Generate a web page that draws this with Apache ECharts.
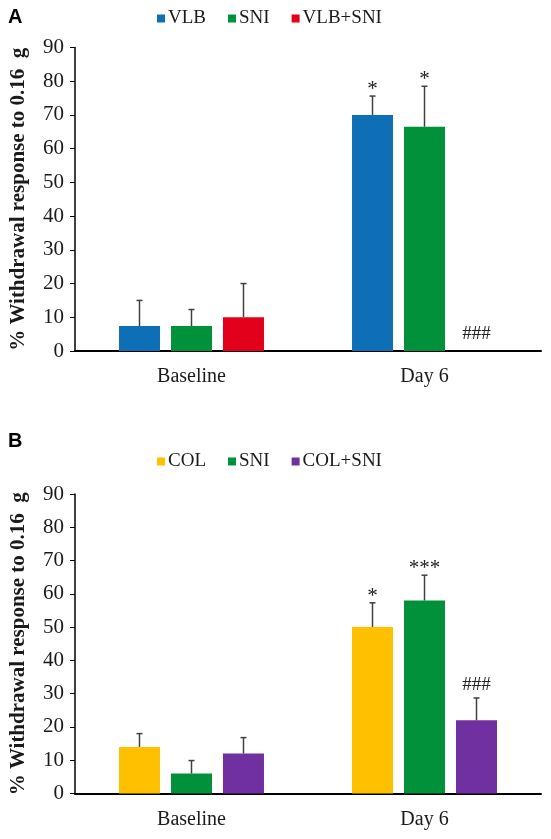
<!DOCTYPE html>
<html>
<head>
<meta charset="utf-8">
<script src="https://cdn.jsdelivr.net/npm/echarts@6/dist/echarts.min.js"></script>
<style>html,body{margin:0;padding:0;background:#fff;}#c{width:551px;height:839px;}</style>
</head>
<body>
<div id="c"></div>
<script>
// ---- data ----
const categories = ['Baseline', 'Day 6'];
const yTicks = [0, 10, 20, 30, 40, 50, 60, 70, 80, 90];

// Panel A
const namesA = ['VLB', 'SNI', 'VLB+SNI'];
const vlbMean = [7.4, 70];
const vlbSD = [7.6, 5.6];
const sniAMean = [7.4, 66.5];
const sniASD = [4.9, 12];
const vlbSniMean = [10, 0];
const vlbSniSD = [10, 0];
const vlbSig = ['', '*'];
const sniASig = ['', '*'];
const vlbSniSig = ['', '###'];

// Panel B
const namesB = ['COL', 'SNI', 'COL+SNI'];
const colMean = [14, 50];
const colSD = [4, 7.3];
const sniBMean = [6, 58];
const sniBSD = [3.9, 7.6];
const colSniMean = [12, 22];
const colSniSD = [4.8, 6.7];
const colSig = ['', '*'];
const sniBSig = ['', '***'];
const colSniSig = ['', '###'];

// ---- style ----
const SERIF = "'Liberation Serif', 'Times New Roman', serif";
const colorsA = ['#0f6fb6', '#00913a', '#e2001a'];
const colorsB = ['#ffc000', '#00913a', '#7030a0'];
const BAR_W = 41, BAR_GAP = 11;

const chart = echarts.init(document.getElementById('c'), null, {renderer: 'canvas'});

function xAx(gi) {
  return {
    gridIndex: gi, type: 'category', data: categories,
    axisLine: {lineStyle: {color: '#000', width: 2}},
    axisTick: {show: false},
    axisLabel: {fontFamily: SERIF, fontSize: 20, color: '#1a1a1a', margin: 16}
  };
}
function yAx(gi) {
  return {
    gridIndex: gi, type: 'value', min: yTicks[0], max: yTicks[yTicks.length - 1], interval: 10,
    axisLine: {show: true, lineStyle: {color: '#000', width: 1.5}},
    axisTick: {show: true, length: 5, lineStyle: {color: '#000', width: 1}},
    splitLine: {show: false},
    axisLabel: {fontFamily: SERIF, fontSize: 21, color: '#1a1a1a', margin: 11},
    name: '% Withdrawal response to 0.16  g',
    nameLocation: 'middle', nameGap: 46,
    nameTextStyle: {fontFamily: SERIF, fontSize: 21, fontWeight: 'bold', color: '#1a1a1a'}
  };
}
function barSeries(name, data, color, gi) {
  return {
    name: name, type: 'bar', xAxisIndex: gi, yAxisIndex: gi, data: data,
    barWidth: BAR_W, barGap: (BAR_GAP / BAR_W * 100).toFixed(1) + '%',
    itemStyle: {color: color}
  };
}
function errSeries(gi, means, sds, sigs) {
  const rows = [];
  const sigList = [];
  means.forEach((m, si) => {
    m.forEach((v, ci) => {
      rows.push([ci, si, v, sds[si][ci]]);
      sigList.push(sigs[si][ci]);
    });
  });
  return {
    type: 'custom', name: 'err' + gi, xAxisIndex: gi, yAxisIndex: gi, z: 5,
    encode: {x: 0, y: 2},
    data: rows,
    renderItem: function (params, api) {
      const ci = api.value(0), si = api.value(1), m = api.value(2), sd = api.value(3);
      const x = api.coord([ci, 0])[0] + (si - 1) * (BAR_W + BAR_GAP);
      const yM = api.coord([ci, m])[1];
      const yT = api.coord([ci, m + sd])[1];
      const children = [];
      if (sd > 0) {
        children.push({type: 'line', shape: {x1: x, y1: yM, x2: x, y2: yT}, style: {stroke: '#404040', lineWidth: 1.5}});
        children.push({type: 'line', shape: {x1: x - 3, y1: yT, x2: x + 3, y2: yT}, style: {stroke: '#404040', lineWidth: 1.5}});
      }
      const sig = sigList[params.dataIndex];
      if (sig) {
        const isStar = sig.indexOf('*') >= 0;
        const off = isStar ? 4 : (sd > 0 ? -3 : -7);
        children.push({type: 'text', x: x, y: yT + off, style: {
          text: sig, fill: '#222', font: (isStar ? '21px ' : '19px ') + SERIF,
          textAlign: 'center', textVerticalAlign: 'bottom'
        }});
      }
      return {type: 'group', children: children};
    }
  };
}
const legendText = {fontFamily: SERIF, fontSize: 19, color: '#1a1a1a', padding: [0, 0, 0, -2]};

chart.setOption({
  animation: false,
  backgroundColor: '#fff',
  grid: [
    {left: 75, right: 10, top: 47.5, height: 303.5},
    {left: 75, right: 10, top: 494, height: 299.5}
  ],
  xAxis: [xAx(0), xAx(1)],
  yAxis: [yAx(0), yAx(1)],
  legend: [
    {data: namesA, top: 4, left: 152, icon: 'rect', itemWidth: 8, itemHeight: 8, itemGap: 22, textStyle: legendText, selectedMode: false},
    {data: namesB, top: 447, left: 152, icon: 'rect', itemWidth: 8, itemHeight: 8, itemGap: 22, textStyle: legendText, selectedMode: false}
  ],
  graphic: [
    {type: 'text', left: 8, top: 7, style: {text: 'A', font: "bold 20px 'Liberation Sans', Arial, sans-serif", fill: '#000'}},
    {type: 'text', left: 8, top: 431, style: {text: 'B', font: "bold 20px 'Liberation Sans', Arial, sans-serif", fill: '#000'}}
  ],
  series: [
    barSeries(namesA[0], vlbMean, colorsA[0], 0),
    barSeries(namesA[1], sniAMean, colorsA[1], 0),
    barSeries(namesA[2], vlbSniMean, colorsA[2], 0),
    errSeries(0, [vlbMean, sniAMean, vlbSniMean], [vlbSD, sniASD, vlbSniSD], [vlbSig, sniASig, vlbSniSig]),
    barSeries(namesB[0], colMean, colorsB[0], 1),
    barSeries(namesB[1], sniBMean, colorsB[1], 1),
    barSeries(namesB[2], colSniMean, colorsB[2], 1),
    errSeries(1, [colMean, sniBMean, colSniMean], [colSD, sniBSD, colSniSD], [colSig, sniBSig, colSniSig])
  ]
});
</script>
</body>
</html>
